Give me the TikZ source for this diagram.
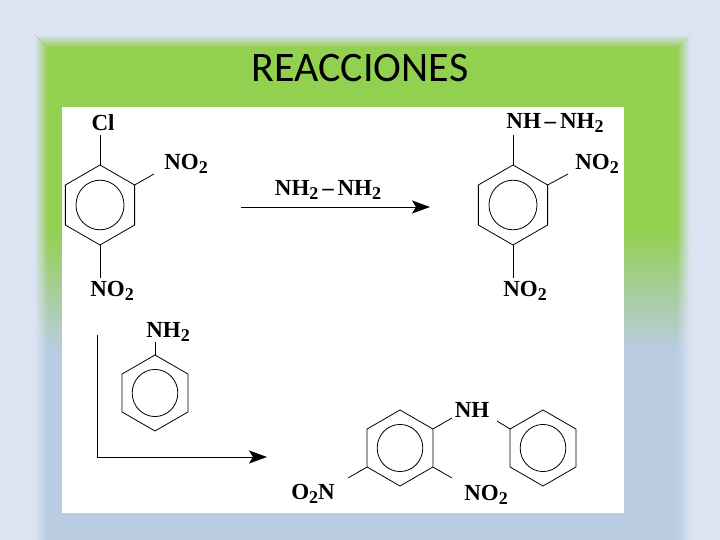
\documentclass[tikz,border=0pt]{standalone}
\usepackage{fontspec}
\setmainfont{Liberation Serif}
\newfontfamily\titlefont{Carlito}
\usetikzlibrary{arrows.meta}
\newcommand{\stwo}{\raisebox{-4.5pt}{\fontsize{18}{18}\selectfont 2}}
\definecolor{gr}{RGB}{146,208,80}
\definecolor{bl}{RGB}{186,204,226}
\definecolor{bg}{RGB}{219,228,242}
\tikzset{lab/.style={font=\fontsize{23}{23}\selectfont\bfseries, inner sep=0pt},
 bond/.style={line width=0.8pt},
 rxn/.style={line width=0.9pt,-{Stealth[length=18pt,width=13pt,inset=4pt]}}}
\newcommand{\ring}[3]{% center x, y, radius
 \draw[bond] (#1+0,#2-#3) -- (#1+0.866*#3,#2-0.5*#3) -- (#1+0.866*#3,#2+0.5*#3) -- (#1,#2+#3) -- (#1-0.866*#3,#2+0.5*#3) -- (#1-0.866*#3,#2-0.5*#3) -- cycle;
 \draw[bond] (#1,#2) ellipse [x radius=0.6*#3, y radius=0.62*#3];}
\begin{document}
\begin{tikzpicture}[x=1pt,y=-1pt]
\useasboundingbox (0,0) rectangle (720,540);
\fill[bg] (0,0) rectangle (720,540);
\fill[gr] (35,35) rectangle (690,231);
\shade[top color=gr, bottom color=bl] (35,230) rectangle (690,350);
\fill[bl] (35,349) rectangle (690,540);
\foreach \i/\o in {1/0.9,3/0.75,5/0.6,7/0.45,9/0.3,11/0.15} {
 \draw[bg, line width=2pt, opacity=\o] (35+\i,35+\i) -- (690-\i,35+\i) -- (690-\i,541) (35+\i,35+\i) -- (35+\i,541);}
\node[font=\titlefont\fontsize{42}{42}\selectfont] (title) at (360,68) {REACCIONES};
\fill[white] (62,107) rectangle (624,513);
% molecule 1
\ring{100}{205}{40}
\node[lab] (cl) at (103,123) {Cl};
\draw[bond] (100,165) -- (100,135);
\node[lab] (no2a) at (186,164) {NO\stwo};
\draw[bond] (134.6,185) -- (154,174);
\node[lab] (no2b) at (112,291) {NO\stwo};
\draw[bond] (100,245) -- (100,278);
% arrow 1
\coordinate (a1) at (241,207); \coordinate (a2) at (430,207);
\draw[rxn] (a1) -- (a2);
\node[lab] (hyd) at (328,190) {NH\stwo\,--\,NH\stwo};
% molecule 2
\ring{513}{205}{40}
\node[lab] (nhnh) at (555,123) {NH\,--\,NH\stwo};
\draw[bond] (513,165) -- (513,135);
\node[lab] (no2c) at (597,164) {NO\stwo};
\draw[bond] (547.6,185) -- (568,174);
\node[lab] (no2d) at (525,291) {NO\stwo};
\draw[bond] (513,245) -- (513,278);
% aniline
\ring{155}{393}{38}
\node[lab] (nh2) at (168,332) {NH\stwo};
\draw[bond] (155,355) -- (155,342);
% bracket arrow
\coordinate (b1) at (97,335); \coordinate (b2) at (97,457); \coordinate (b3) at (267,457);
\draw[rxn] (b1) -- (b2) -- (b3);
% product
\ring{400}{448}{38}
\ring{543}{448}{38}
\node[lab] (nh) at (472,410) {NH};
\draw[bond] (432.9,429) -- (452,418);
\draw[bond] (510.1,429) -- (497,421);
\node[lab] (o2n) at (313,494) {O\stwo N};
\draw[bond] (367.1,467) -- (348,478);
\node[lab] (no2e) at (486,495) {NO\stwo};
\draw[bond] (432.9,467) -- (452,478);
\end{tikzpicture}
\end{document}
